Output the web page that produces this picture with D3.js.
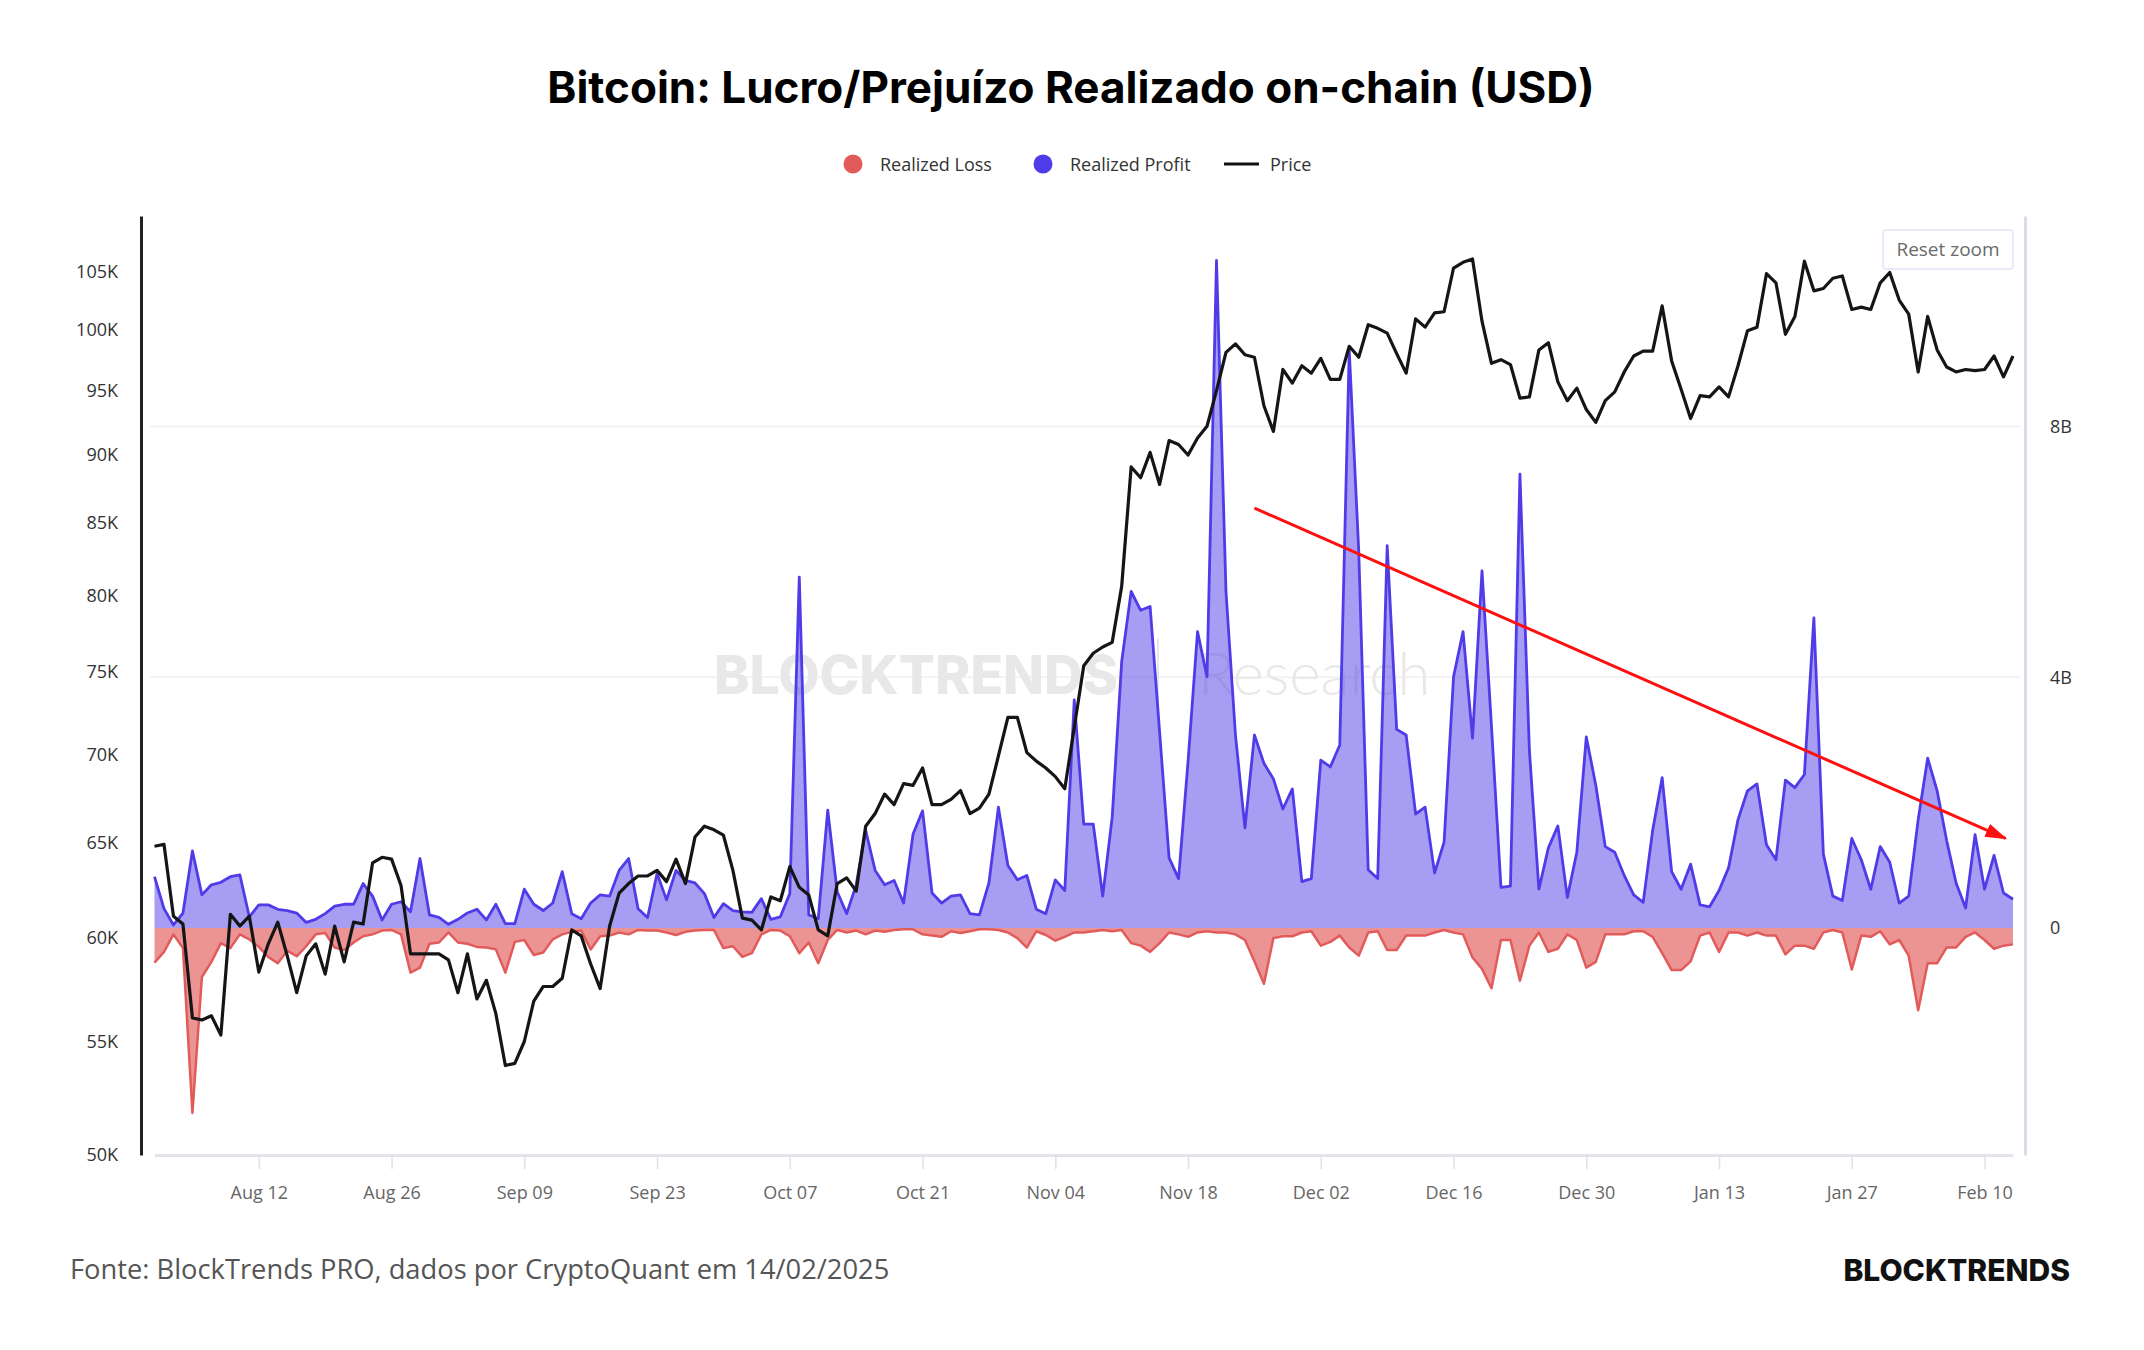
<!DOCTYPE html>
<html>
<head>
<meta charset="utf-8">
<script src="https://cdn.jsdelivr.net/npm/d3@7"></script>
<style>
  body { margin: 0; background: #fff; }
  text { font-family: "Open Sans", sans-serif; }
</style>
</head>
<body>
<div id="chart"></div>
<script>
// Daily points, 2024-08-01 .. 2025-02-13
const firstDay = '2024-08-01'
const lastDay = '2025-02-13'

// BTC price, thousands of USD
const price = [
  64.8, 64.9, 61.1, 60.7, 56.1, 56.0, 56.2, 55.3, 61.2, 60.6, 61.1, 58.3, 59.7, 60.8, 59.1, 57.3,
  59.1, 59.7, 58.2, 60.6, 58.8, 60.8, 60.7, 63.9, 64.2, 64.1, 62.7, 59.2, 59.2, 59.2, 59.2, 58.9,
  57.3, 59.2, 57.0, 57.9, 56.3, 53.9, 54.0, 55.0, 56.9, 57.6, 57.6, 58.0, 60.4, 60.1, 58.7, 57.5,
  60.6, 62.3, 62.8, 63.2, 63.2, 63.5, 62.9, 64.1, 62.8, 65.3, 65.9, 65.7, 65.4, 63.5, 61.0, 60.9,
  60.4, 62.1, 61.9, 63.7, 62.6, 62.2, 60.4, 60.1, 62.8, 63.1, 62.4, 65.9, 66.6, 67.7, 67.1, 68.3,
  68.2, 69.2, 67.1, 67.1, 67.4, 67.9, 66.6, 66.9, 67.7, 69.9, 72.2, 72.2, 70.1, 69.6, 69.2, 68.7,
  68.0, 71.6, 75.4, 76.2, 76.6, 76.9, 80.6, 89.1, 88.3, 90.2, 87.8, 91.1, 90.8, 90.0, 91.3, 92.2,
  95.0, 98.1, 98.8, 97.9, 97.7, 93.8, 91.8, 96.7, 95.6, 97.0, 96.4, 97.6, 95.9, 95.9, 98.6, 97.7,
  100.4, 100.1, 99.7, 98.0, 96.4, 100.9, 100.2, 101.4, 101.5, 105.3, 105.8, 106.1, 100.7, 97.2, 97.5, 97.1,
  94.4, 94.5, 98.3, 98.9, 95.7, 94.2, 95.2, 93.5, 92.5, 94.2, 94.9, 96.5, 97.8, 98.2, 98.2, 102.0,
  97.4, 95.1, 92.8, 94.6, 94.5, 95.3, 94.5, 97.0, 99.9, 100.2, 104.8, 104.0, 99.6, 101.1, 105.9, 103.3,
  103.5, 104.4, 104.6, 101.7, 101.9, 101.7, 104.0, 104.9, 102.5, 101.3, 96.5, 101.1, 98.3, 96.9, 96.5, 96.7,
  96.6, 96.7, 97.8, 96.1, 97.8
]

// Realized profit, billions of USD
const realizedProfit = [
  0.82, 0.31, 0.05, 0.24, 1.23, 0.53, 0.69, 0.73, 0.82, 0.85, 0.18, 0.37, 0.37, 0.30, 0.28, 0.24,
  0.09, 0.14, 0.23, 0.35, 0.38, 0.38, 0.71, 0.51, 0.13, 0.38, 0.42, 0.26, 1.11, 0.21, 0.17, 0.06,
  0.14, 0.24, 0.30, 0.13, 0.38, 0.07, 0.07, 0.62, 0.38, 0.28, 0.40, 0.90, 0.23, 0.15, 0.40, 0.53,
  0.51, 0.92, 1.11, 0.31, 0.17, 0.87, 0.45, 0.92, 0.76, 0.72, 0.55, 0.17, 0.39, 0.28, 0.26, 0.25,
  0.47, 0.14, 0.18, 0.55, 5.60, 0.21, 0.15, 1.88, 0.58, 0.23, 0.69, 1.56, 0.92, 0.69, 0.76, 0.40,
  1.50, 1.87, 0.56, 0.40, 0.51, 0.53, 0.23, 0.21, 0.72, 1.93, 1.00, 0.77, 0.84, 0.30, 0.23, 0.77,
  0.60, 3.64, 1.66, 1.66, 0.51, 1.77, 4.25, 5.37, 5.07, 5.13, 3.13, 1.12, 0.79, 2.66, 4.73, 4.01,
  10.65, 5.37, 3.08, 1.60, 3.08, 2.63, 2.38, 1.90, 2.22, 0.74, 0.79, 2.68, 2.57, 2.92, 9.22, 6.02,
  0.93, 0.79, 6.10, 3.17, 3.08, 1.82, 1.93, 0.88, 1.37, 4.01, 4.73, 3.03, 5.70, 3.22, 0.65, 0.67,
  7.24, 2.83, 0.62, 1.28, 1.63, 0.49, 1.21, 3.05, 2.28, 1.30, 1.21, 0.84, 0.53, 0.41, 1.56, 2.40,
  0.90, 0.62, 1.02, 0.37, 0.34, 0.60, 0.96, 1.73, 2.19, 2.30, 1.33, 1.09, 2.36, 2.24, 2.45, 4.95,
  1.18, 0.51, 0.44, 1.43, 1.09, 0.62, 1.30, 1.05, 0.40, 0.51, 1.73, 2.71, 2.19, 1.40, 0.72, 0.32,
  1.49, 0.62, 1.16, 0.56, 0.46
]

// Realized loss, billions of USD (negative)
const realizedLoss = [
  -0.55, -0.38, -0.10, -0.32, -2.95, -0.78, -0.54, -0.24, -0.32, -0.10, -0.18, -0.30, -0.46, -0.56, -0.36, -0.45,
  -0.29, -0.10, -0.08, -0.31, -0.35, -0.23, -0.13, -0.10, -0.04, -0.03, -0.10, -0.71, -0.63, -0.25, -0.23, -0.07,
  -0.23, -0.25, -0.30, -0.31, -0.34, -0.71, -0.22, -0.19, -0.43, -0.39, -0.18, -0.10, -0.06, -0.04, -0.34, -0.13,
  -0.12, -0.07, -0.10, -0.03, -0.04, -0.04, -0.07, -0.11, -0.06, -0.04, -0.03, -0.03, -0.32, -0.29, -0.46, -0.40,
  -0.10, -0.03, -0.04, -0.13, -0.40, -0.23, -0.56, -0.19, -0.03, -0.07, -0.04, -0.10, -0.04, -0.06, -0.03, -0.02,
  -0.02, -0.10, -0.12, -0.14, -0.05, -0.08, -0.05, -0.02, -0.02, -0.03, -0.07, -0.16, -0.31, -0.05, -0.11, -0.20,
  -0.14, -0.07, -0.07, -0.05, -0.03, -0.05, -0.03, -0.24, -0.28, -0.38, -0.24, -0.07, -0.10, -0.14, -0.07, -0.05,
  -0.07, -0.07, -0.10, -0.19, -0.53, -0.89, -0.16, -0.13, -0.13, -0.07, -0.05, -0.28, -0.22, -0.12, -0.31, -0.44,
  -0.07, -0.05, -0.35, -0.35, -0.12, -0.12, -0.12, -0.07, -0.03, -0.07, -0.10, -0.47, -0.65, -0.96, -0.19, -0.19,
  -0.84, -0.28, -0.07, -0.38, -0.33, -0.10, -0.19, -0.63, -0.54, -0.10, -0.10, -0.10, -0.05, -0.05, -0.14, -0.40,
  -0.67, -0.67, -0.53, -0.12, -0.07, -0.38, -0.07, -0.07, -0.12, -0.07, -0.12, -0.12, -0.42, -0.28, -0.28, -0.33,
  -0.07, -0.03, -0.07, -0.66, -0.12, -0.14, -0.05, -0.26, -0.19, -0.44, -1.31, -0.56, -0.56, -0.31, -0.31, -0.14,
  -0.07, -0.19, -0.33, -0.28, -0.26
]

// axis ticks
const priceTicks = [50, 55, 60, 65, 70, 75, 80, 85, 90, 95, 100, 105]
const plTicks = [0, 4, 8]
const dateTicks = ['2024-08-12', '2024-08-26', '2024-09-09', '2024-09-23', '2024-10-07', '2024-10-21',
  '2024-11-04', '2024-11-18', '2024-12-02', '2024-12-16', '2024-12-30', '2025-01-13', '2025-01-27', '2025-02-10']

// red trend arrow drawn on the chart (date, billions)
const trendFrom = ['2024-11-25T00:00', 6.70]
const trendTo = ['2025-02-12T05:00', 1.43]

const width = 2144,
height = 1350

const lossColor = '#e25b5b',
profitColor = '#4f3ce8'

const parse = d3.utcParse('%Y-%m-%d')
const parseT = d3.utcParse('%Y-%m-%dT%H:%M')
const days = d3.utcDay.range(parse(firstDay), d3.utcDay.offset(parse(lastDay), 1))
const rows = days.map((d, i) => ({ date: d, price: price[i], profit: realizedProfit[i], loss: realizedLoss[i] }))

let svg = d3.select('#chart')
.append('svg')
.attr('width', width)
.attr('height', height)
.style('display', 'block')

const x = d3.scaleUtc()
.domain([days[0], days[days.length - 1]])
.range([154.5, 2013])

const yPrice = d3.scaleLog()
.domain([50, 110])
.range([1155, 216])

const yPL = d3.scaleLinear()
.domain([-3.62, 11.36])
.range([1155, 216])

// title
svg.append('text')
.attr('x', 1071)
.attr('y', 103)
.attr('text-anchor', 'middle')
.style('font-family', 'Inter, sans-serif')
.style('font-weight', 700)
.style('font-size', '44px')
.attr('fill', '#000')
.text('Bitcoin: Lucro/Prejuízo Realizado on-chain (USD)')

// legend
const legend = svg.append('g').attr('transform', 'translate(0,164)')
legend.append('circle').attr('cx', 853).attr('cy', 0).attr('r', 9.5).attr('fill', lossColor)
legend.append('text').attr('x', 880).attr('y', 6.5).text('Realized Loss')
legend.append('circle').attr('cx', 1043).attr('cy', 0).attr('r', 9.5).attr('fill', profitColor)
legend.append('text').attr('x', 1070).attr('y', 6.5).text('Realized Profit')
legend.append('line').attr('x1', 1224).attr('x2', 1259).attr('y1', 0).attr('y2', 0)
.attr('stroke', '#111').attr('stroke-width', 3)
legend.append('text').attr('x', 1270).attr('y', 6.5).text('Price')
legend.selectAll('text').style('font-size', '18px').attr('fill', '#333')

// gridlines of the right axis
svg.append('g')
.selectAll('line')
.data(plTicks.filter(d => d > 0))
.enter()
.append('line')
.attr('x1', 150).attr('x2', 2020)
.attr('y1', d => yPL(d)).attr('y2', d => yPL(d))
.attr('stroke', '#f0f0f0')
.attr('stroke-width', 1.5)

// watermark
const wm = svg.append('g').attr('fill', '#e8e8e8')
wm.append('text').attr('x', 1118).attr('y', 694).attr('text-anchor', 'end')
.style('font-family', 'Inter, sans-serif').style('font-weight', 800).style('font-size', '53.5px')
.text('BLOCKTRENDS')
wm.append('line').attr('x1', 1158).attr('x2', 1158).attr('y1', 638).attr('y2', 708)
.attr('stroke', '#e6e6e6').attr('stroke-width', 2)
wm.append('text').attr('x', 1198).attr('y', 695)
.style('font-family', 'Lato, sans-serif').style('font-weight', 300).style('font-size', '60px')
.text('Research')

// profit area
svg.append('path')
.datum(rows)
.attr('fill', profitColor)
.attr('fill-opacity', 0.5)
.attr('d', d3.area().x(d => x(d.date)).y0(yPL(0)).y1(d => yPL(d.profit)))

svg.append('path')
.datum(rows)
.attr('fill', 'none')
.attr('stroke', profitColor)
.attr('stroke-width', 2.8)
.attr('stroke-linejoin', 'round')
.attr('d', d3.line().x(d => x(d.date)).y(d => yPL(d.profit)))

// loss area
svg.append('path')
.datum(rows)
.attr('fill', lossColor)
.attr('fill-opacity', 0.65)
.attr('d', d3.area().x(d => x(d.date)).y0(yPL(0)).y1(d => yPL(d.loss)))

svg.append('path')
.datum(rows)
.attr('fill', 'none')
.attr('stroke', lossColor)
.attr('stroke-width', 2.5)
.attr('stroke-linejoin', 'round')
.attr('d', d3.line().x(d => x(d.date)).y(d => yPL(d.loss)))

// price
svg.append('path')
.datum(rows)
.attr('fill', 'none')
.attr('stroke', '#151515')
.attr('stroke-width', 3.2)
.attr('stroke-linejoin', 'round')
.attr('d', d3.line().x(d => x(d.date)).y(d => yPrice(d.price)))

// axes
const leftAxis = svg.append('g')
.attr('transform', 'translate(141,0)')
.call(d3.axisLeft(yPrice).tickValues(priceTicks).tickFormat(d => d + 'K').tickSize(0).tickPadding(23))
leftAxis.select('.domain').attr('stroke', '#222').attr('stroke-width', 3)

const rightAxis = svg.append('g')
.attr('transform', 'translate(2025,0)')
.call(d3.axisRight(yPL).tickValues(plTicks).tickFormat(d => d === 0 ? '0' : d + 'B').tickSize(0).tickPadding(25))
rightAxis.select('.domain').attr('stroke', '#dcdce6').attr('stroke-width', 3)

const bottomAxis = svg.append('g')
.attr('transform', 'translate(0,1155)')
.call(d3.axisBottom(x).tickValues(dateTicks.map(parse)).tickFormat(d3.utcFormat('%b %d')).tickSizeInner(14).tickSizeOuter(0).tickPadding(17))
bottomAxis.select('.domain').attr('stroke', '#e3e3ea').attr('stroke-width', 3)
bottomAxis.selectAll('.tick line').attr('stroke', '#e0e0e8').attr('stroke-width', 1.5)

svg.selectAll('.tick text')
.style('font-family', '"Open Sans", sans-serif')
.style('font-size', '18px')
leftAxis.selectAll('.tick text').attr('fill', '#333')
rightAxis.selectAll('.tick text').attr('fill', '#333')
bottomAxis.selectAll('.tick text').attr('fill', '#666')

// trend arrow
svg.append('defs').append('marker')
.attr('id', 'head')
.attr('markerUnits', 'userSpaceOnUse')
.attr('markerWidth', 22).attr('markerHeight', 14)
.attr('refX', 20).attr('refY', 7)
.attr('orient', 'auto')
.append('path')
.attr('d', 'M0,0 L22,7 L0,14 Z')
.attr('fill', '#ff1010')

svg.append('line')
.attr('x1', x(parseT(trendFrom[0]))).attr('y1', yPL(trendFrom[1]))
.attr('x2', x(parseT(trendTo[0]))).attr('y2', yPL(trendTo[1]))
.attr('stroke', '#ff1010')
.attr('stroke-width', 3)
.attr('marker-end', 'url(#head)')

// reset zoom button
const btn = svg.append('g').attr('transform', 'translate(1883,230)')
btn.append('rect').attr('width', 130).attr('height', 39).attr('rx', 3)
.attr('fill', '#fff').attr('stroke', '#dfe3f7').attr('stroke-width', 1.5)
btn.append('text').attr('x', 65).attr('y', 26).attr('text-anchor', 'middle')
.style('font-size', '19px').attr('fill', '#6a6a6a').text('Reset zoom')

// footer
svg.append('text')
.attr('x', 70).attr('y', 1279)
.style('font-size', '27.3px')
.attr('fill', '#555')
.text('Fonte: BlockTrends PRO, dados por CryptoQuant em 14/02/2025')

svg.append('text')
.attr('x', 2070).attr('y', 1281)
.attr('text-anchor', 'end')
.style('font-family', 'Inter, sans-serif')
.style('font-weight', 800)
.style('font-size', '30px')
.attr('fill', '#111')
.text('BLOCKTRENDS')
</script>
</body>
</html>
